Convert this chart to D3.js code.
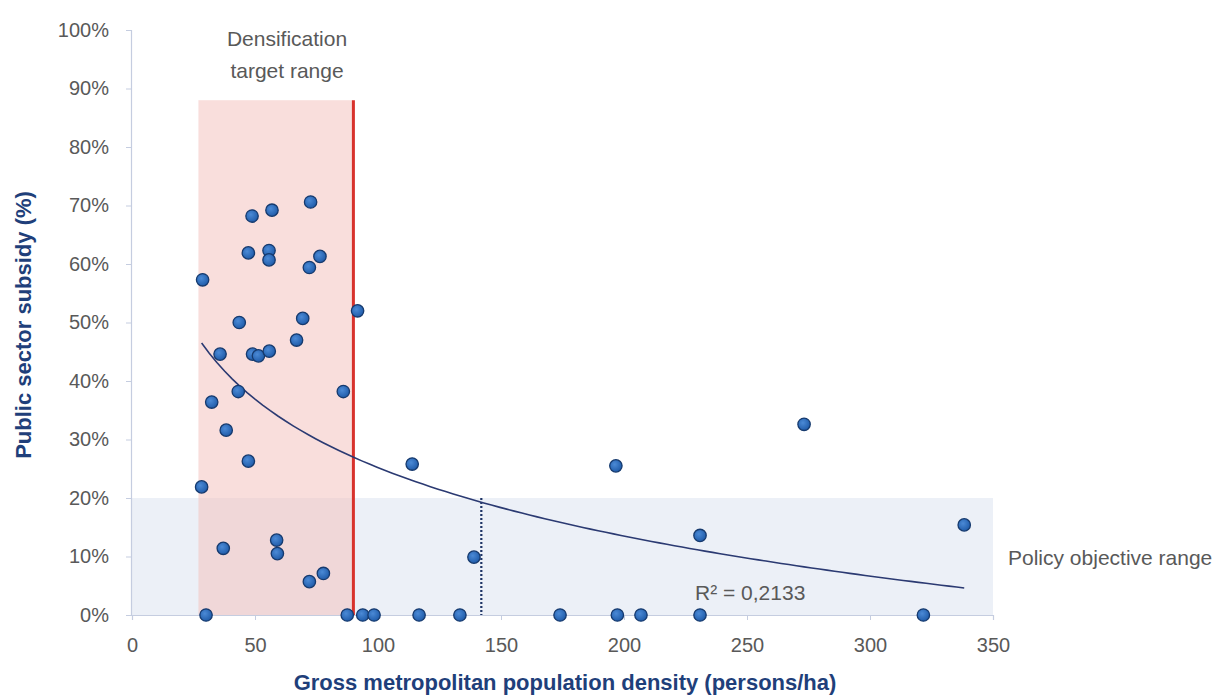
<!DOCTYPE html>
<html><head><meta charset="utf-8">
<script src="https://cdn.jsdelivr.net/npm/d3@7"></script>
<style>
html,body{margin:0;padding:0;background:#fff;}
svg{display:block;font-family:"Liberation Sans",Arial,sans-serif;}
</style></head>
<body>
<svg id="chart" width="1226" height="697"></svg>
<script>
// ---- data ----
const densities = [48.8,56.9,72.6,47.3,55.7,55.7,76.4,72.1,28.7,91.7,43.6,69.4,66.9,35.8,49.0,51.4,55.8,
  43.2,32.4,85.9,38.3,47.3,28.3,37.1,58.8,59.1,72.1,77.8,30.1,87.5,93.8,98.4,
  113.9,196.7,273.2,230.9,139.0,116.7,133.3,174.0,197.3,206.9,230.9,338.3,321.7];
const subsidies = [0.682,0.692,0.706,0.619,0.623,0.607,0.613,0.594,0.573,0.520,0.500,0.507,0.470,0.446,0.446,0.443,0.451,
  0.382,0.364,0.382,0.316,0.263,0.219,0.114,0.128,0.105,0.057,0.071,0,0,0,0,
  0.258,0.255,0.326,0.136,0.099,0,0,0,0,0,0,0.154,0];
const xTicks = [0,50,100,150,200,250,300,350];
const yTicks = [0,0.1,0.2,0.3,0.4,0.5,0.6,0.7,0.8,0.9,1.0];
const targetRange = [27, 90];      // densification target range (persons/ha)
const targetTop = 0.88;
const policyRange = [0, 0.2];      // policy objective range (subsidy)
const policyDensity = 142;
const r2Label = "R² = 0,2133";

// ---- layout ----
const svg = d3.select("#chart");
const x = d3.scaleLinear().domain([0,350]).range([132,993]);
const y = d3.scaleLinear().domain([0,1]).range([615,30]);
const grey = "#595959", navy = "#1f3f7a";

// gradient for points
const defs = svg.append("defs");
const g = defs.append("radialGradient").attr("id","dot").attr("cx","40%").attr("cy","38%").attr("r","65%");
g.append("stop").attr("offset","0%").attr("stop-color","#4b8ad6");
g.append("stop").attr("offset","100%").attr("stop-color","#1e5aa8");

// policy objective band
svg.append("rect")
  .attr("x",x(0)).attr("width",x(350)-x(0))
  .attr("y",y(policyRange[1])).attr("height",y(policyRange[0])-y(policyRange[1]))
  .attr("fill","#ecf0f7");

// densification band
svg.append("rect")
  .attr("x",x(targetRange[0])).attr("width",x(targetRange[1])-x(targetRange[0]))
  .attr("y",y(targetTop)).attr("height",y(0)-y(targetTop))
  .attr("fill","#f4c2c0").attr("fill-opacity",0.55);

// axes
const yAxis = d3.axisLeft(y).tickValues(yTicks).tickFormat(d3.format(".0%")).tickSize(5).tickPadding(17);
const yg = svg.append("g").attr("transform",`translate(${x(0)-1},0)`).call(yAxis);
const xAxis = d3.axisBottom(x).tickValues(xTicks).tickFormat(d3.format("d")).tickSize(5).tickPadding(18);
const xg = svg.append("g").attr("transform",`translate(0,${y(0)})`).call(xAxis);
[yg,xg].forEach(a=>{
  a.select(".domain").attr("stroke","#c5cde0").attr("stroke-width",1.2);
  a.selectAll(".tick line").attr("stroke","#c5cde0");
  a.selectAll(".tick text").attr("fill",grey).attr("font-size",20).attr("font-family","'Liberation Sans',Arial,sans-serif");
});

// red target line
svg.append("line")
  .attr("x1",x(targetRange[1])).attr("x2",x(targetRange[1]))
  .attr("y1",y(targetTop)).attr("y2",y(0))
  .attr("stroke","#d8322c").attr("stroke-width",3);

// dotted line at policy density
svg.append("line")
  .attr("x1",x(policyDensity)).attr("x2",x(policyDensity))
  .attr("y1",y(policyRange[1])).attr("y2",y(0))
  .attr("stroke","#1f3566").attr("stroke-width",2.2).attr("stroke-dasharray","2,2");

// logarithmic trendline (least squares on ln(x))
const n = densities.length;
const lx = densities.map(Math.log);
const mx = d3.mean(lx), my = d3.mean(subsidies);
let sxy=0, sxx=0;
for(let i=0;i<n;i++){ sxy+=(lx[i]-mx)*(subsidies[i]-my); sxx+=(lx[i]-mx)**2; }
const slope = sxy/sxx, intercept = my - slope*mx;
const [xmin,xmax] = d3.extent(densities);
const trendPts = d3.range(0,101).map(i=>{const xv=xmin+(xmax-xmin)*i/100; return [xv, intercept+slope*Math.log(xv)];});
svg.append("path").datum(trendPts)
  .attr("d",d3.line().x(d=>x(d[0])).y(d=>y(d[1])))
  .attr("fill","none").attr("stroke","#2b3a72").attr("stroke-width",1.6);

// points
svg.append("g").selectAll("circle").data(densities.map((d,i)=>[d,subsidies[i]])).join("circle")
  .attr("cx",d=>x(d[0])).attr("cy",d=>y(d[1])).attr("r",6.2)
  .attr("fill","url(#dot)").attr("stroke","#163a6e").attr("stroke-width",1.3);

// texts
svg.append("text").attr("x",287).attr("y",46).attr("text-anchor","middle").attr("fill",grey).attr("font-size",21).text("Densification");
svg.append("text").attr("x",287).attr("y",78).attr("text-anchor","middle").attr("fill",grey).attr("font-size",21).text("target range");
svg.append("text").attr("x",1008).attr("y",565).attr("fill",grey).attr("font-size",21).text("Policy objective range");
svg.append("text").attr("x",695).attr("y",600).attr("fill",grey).attr("font-size",21).text(r2Label);

svg.append("text").attr("x",565).attr("y",690).attr("text-anchor","middle").attr("fill",navy)
  .attr("font-size",22).attr("font-weight","bold").text("Gross metropolitan population density (persons/ha)");
svg.append("text").attr("transform","translate(31,325) rotate(-90)").attr("text-anchor","middle").attr("fill",navy)
  .attr("font-size",22).attr("font-weight","bold").text("Public sector subsidy (%)");
</script>
</body></html>
